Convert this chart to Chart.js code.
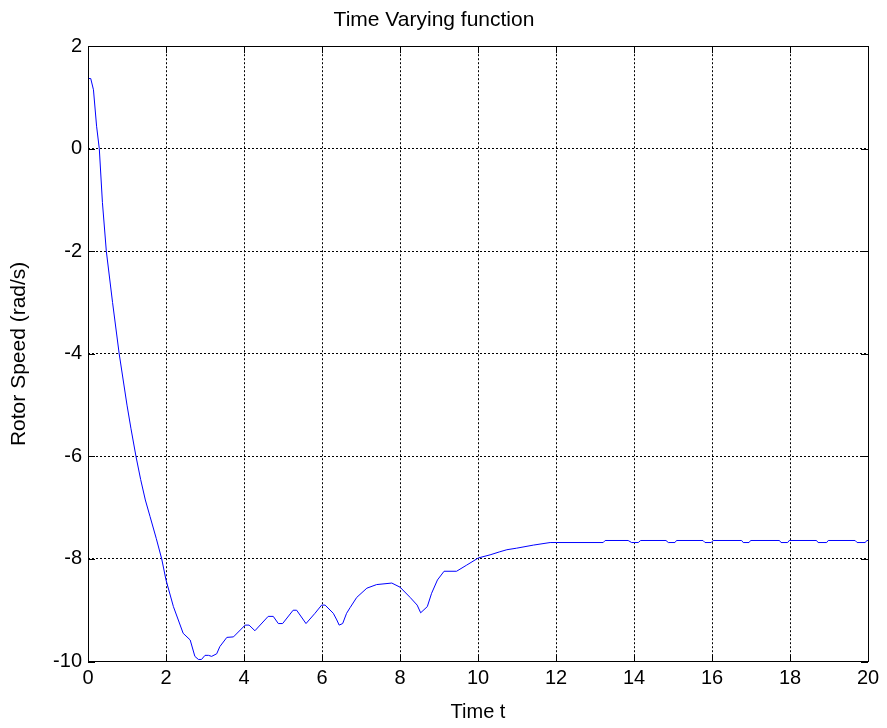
<!DOCTYPE html>
<html>
<head>
<meta charset="utf-8">
<script src="https://cdn.jsdelivr.net/npm/chart.js@4/dist/chart.umd.min.js"></script>
<style>
  html, body { margin: 0; padding: 0; background: #fff; }
  #wrap { width: 887px; height: 728px; }
</style>
</head>
<body>
<div id="wrap"><canvas id="myChart" width="887" height="728"></canvas></div>
<script>
// rotor speed response
var timeVals = [0, 0.07, 0.14, 0.22, 0.29, 0.37, 0.47, 0.63, 0.8, 1.0, 1.1, 1.23, 1.35, 1.47, 1.59, 1.75, 1.89,
  2.0, 2.19, 2.44, 2.62, 2.74, 2.83, 2.91, 3.0, 3.09, 3.17, 3.3, 3.38, 3.56, 3.73,
  4.03, 4.13, 4.28, 4.62, 4.75, 4.88, 4.99, 5.26, 5.35, 5.59, 5.82, 5.99,
  6.08, 6.29, 6.38, 6.44, 6.53, 6.63, 6.72, 6.89, 7.15, 7.4, 7.79,
  8.0, 8.26, 8.44, 8.53, 8.7, 8.81, 8.96, 9.13, 9.45, 9.71,
  10.01, 10.31, 10.56, 10.74, 10.99, 11.42, 11.85,
  13.21, 13.26, 13.85, 13.94, 14.11, 14.17, 14.82, 14.88, 15.05, 15.09,
  15.77, 15.82, 15.98, 16.03, 16.76, 16.8, 16.95, 16.99, 17.73, 17.77, 17.94, 17.98,
  18.68, 18.72, 18.94, 18.98, 19.67, 19.72, 19.93, 19.97, 20];
var speedVals = [1.37, 1.37, 1.15, 0.44, 0.0, -1.05, -2.0, -3.0, -4.0, -5.0, -5.45, -6.0, -6.45, -6.85, -7.17, -7.6, -8.0,
  -8.41, -8.93, -9.45, -9.58, -9.9, -9.96, -9.96, -9.88, -9.88, -9.9, -9.85, -9.71, -9.53, -9.52,
  -9.29, -9.29, -9.4, -9.12, -9.12, -9.26, -9.26, -9.0, -9.0, -9.26, -9.06, -8.9,
  -8.9, -9.06, -9.19, -9.29, -9.26, -9.06, -8.95, -8.75, -8.57, -8.5, -8.47,
  -8.55, -8.75, -8.9, -9.05, -8.93, -8.67, -8.41, -8.24, -8.24, -8.12,
  -7.98, -7.92, -7.86, -7.82, -7.79, -7.73, -7.68,
  -7.68, -7.64, -7.64, -7.68, -7.68, -7.64, -7.64, -7.68, -7.68, -7.64,
  -7.64, -7.68, -7.68, -7.64, -7.64, -7.68, -7.68, -7.64, -7.64, -7.68, -7.68, -7.64,
  -7.64, -7.68, -7.68, -7.64, -7.64, -7.68, -7.68, -7.64, -7.64];

var xTicks = [0, 2, 4, 6, 8, 10, 12, 14, 16, 18, 20];
var yTicks = [2, 0, -2, -4, -6, -8, -10];

var points = timeVals.map(function (t, i) { return { x: t, y: speedVals[i] }; });
var fontFamily = "'Liberation Sans', Arial, Helvetica, sans-serif";

// box around the axes plus inward tick marks on all four sides
var boxPlugin = {
  id: 'boxTicks',
  afterDatasetsDraw: function (chart) {
    var ctx = chart.ctx, a = chart.chartArea;
    var xs = chart.scales.x, ys = chart.scales.y;
    var len = 7;
    ctx.save();
    ctx.strokeStyle = '#000';
    ctx.lineWidth = 1;
    ctx.setLineDash([]);
    ctx.beginPath();
    xTicks.forEach(function (v) {
      var px = Math.round(xs.getPixelForValue(v)) + 0.5;
      ctx.moveTo(px, a.bottom); ctx.lineTo(px, a.bottom - len);
      ctx.moveTo(px, a.top); ctx.lineTo(px, a.top + len);
    });
    yTicks.forEach(function (v) {
      var py = Math.round(ys.getPixelForValue(v)) + 0.5;
      ctx.moveTo(a.left, py); ctx.lineTo(a.left + len, py);
      ctx.moveTo(a.right, py); ctx.lineTo(a.right - len, py);
    });
    ctx.stroke();
    ctx.strokeRect(Math.round(a.left) + 0.5, Math.round(a.top) + 0.5,
      Math.round(a.right - a.left), Math.round(a.bottom - a.top));
    ctx.restore();
  }
};

var ctx = document.getElementById('myChart').getContext('2d');
var myChart = new Chart(ctx, {
  type: 'line',
  data: {
    datasets: [{
      label: 'Rotor Speed',
      data: points,
      borderColor: '#0000ff',
      borderWidth: 1,
      pointRadius: 0,
      tension: 0,
      fill: false
    }]
  },
  options: {
    responsive: false,
    animation: false,
    layout: { padding: { left: 0, right: 19, top: 0, bottom: 0 } },
    plugins: {
      legend: { display: false },
      tooltip: { enabled: false },
      title: {
        display: true,
        text: 'Time Varying function',
        color: '#000',
        font: { family: fontFamily, size: 21, weight: 'normal' },
        padding: { top: 8, bottom: 13 }
      }
    },
    scales: {
      x: {
        type: 'linear',
        min: 0, max: 20,
        afterFit: function (s) { s.height = 66.5; },
        afterBuildTicks: function (s) { s.ticks = xTicks.map(function (v) { return { value: v }; }); },
        ticks: { color: '#000', padding: 5, maxRotation: 0, font: { family: fontFamily, size: 20 } },
        grid: { color: '#000', lineWidth: 1, tickLength: 0, drawTicks: false },
        border: { display: false, dash: [2, 2] },
        title: {
          display: true, text: 'Time t', color: '#000',
          font: { family: fontFamily, size: 20 }, padding: { top: 0, bottom: 4 }
        }
      },
      y: {
        type: 'linear',
        min: -10, max: 2,
        afterFit: function (s) { s.width = 88; },
        afterBuildTicks: function (s) { s.ticks = yTicks.map(function (v) { return { value: v }; }); },
        ticks: { color: '#000', padding: 6, font: { family: fontFamily, size: 20 } },
        grid: { color: '#000', lineWidth: 1, tickLength: 0, drawTicks: false },
        border: { display: false, dash: [2, 2] },
        title: {
          display: true, text: 'Rotor Speed (rad/s)', color: '#000',
          font: { family: fontFamily, size: 21 }, padding: { top: 7, bottom: 0 }
        }
      }
    }
  },
  plugins: [boxPlugin]
});
</script>
</body>
</html>
